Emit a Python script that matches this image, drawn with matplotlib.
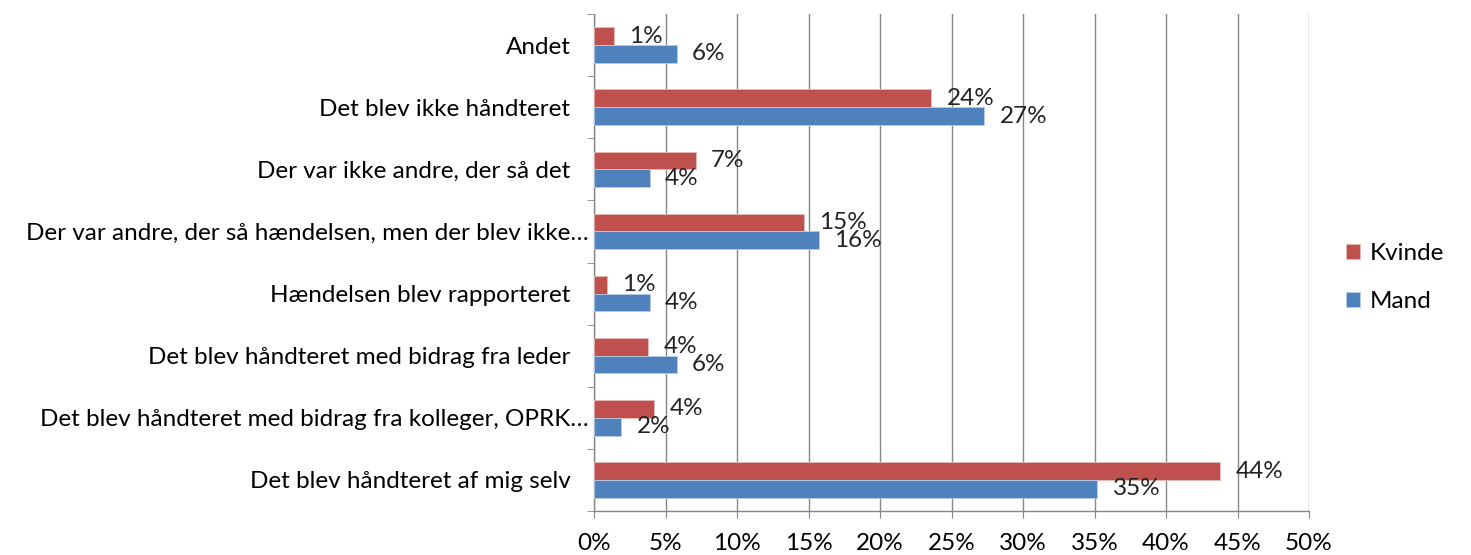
import numpy as np
import matplotlib
matplotlib.use("Agg")
import matplotlib.pyplot as plt
import matplotlib.transforms as mtransforms

plt.rcParams['font.family'] = ['Lato', 'DejaVu Sans']

# categories, bottom to top
categories = [
    "Det blev håndteret af mig selv",
    "Det blev håndteret med bidrag fra kolleger, OPRK…",
    "Det blev håndteret med bidrag fra leder",
    "Hændelsen blev rapporteret",
    "Der var andre, der så hændelsen, men der blev ikke…",
    "Der var ikke andre, der så det",
    "Det blev ikke håndteret",
    "Andet",
]
kvinde = [43.8, 4.2, 3.8, 0.9, 14.7, 7.1, 23.6, 1.4]
mand = [35.2, 1.9, 5.8, 3.9, 15.7, 3.9, 27.3, 5.8]
xticks = [0, 5, 10, 15, 20, 25, 30, 35, 40, 45, 50]

red = "#C0504D"
blue = "#4F81BD"
grid_c = "#868686"

fig = plt.figure(figsize=(14.71, 5.55), dpi=100)
ax = fig.add_axes([594/1471, 1 - 511/555, (1309 - 594)/1471, (511 - 14)/555])

y = np.arange(len(categories))
h = 0.285
bk = ax.barh(y + h/2, kvinde, height=h, color=red, edgecolor="#E6B9B8", linewidth=0.6, label="Kvinde", zorder=3)
bm = ax.barh(y - h/2, mand, height=h, color=blue, edgecolor="#B9CDE5", linewidth=0.6, label="Mand", zorder=3)

fs = 17.5
for bars, vals in ((bk, kvinde), (bm, mand)):
    for b, v in zip(bars, vals):
        ax.annotate(f"{v:.0f}%", (b.get_width(), b.get_y() + b.get_height()/2),
                    xytext=(11, 0), textcoords="offset points", ha="left", va="center",
                    fontsize=fs, color="#222222", zorder=4)

ax.set_xlim(0, 50)
ax.set_ylim(-0.5, len(categories) - 0.5)
ax.set_xticks(xticks)
ax.set_xticklabels([f"{t}%" for t in xticks], fontsize=fs)
ax.xaxis.grid(True, color=grid_c, linewidth=1.0, zorder=0)
ax.tick_params(axis='x', length=5, color=grid_c, pad=11)

ax.set_yticks(y)
ax.set_yticklabels(categories, fontsize=fs)
ax.set_yticks(np.arange(len(categories) + 1) - 0.5, minor=True)
ax.tick_params(axis='y', which='major', length=0, pad=17)
ax.tick_params(axis='y', which='minor', length=5, color=grid_c)

# truncated labels sit a little closer to the axis
for lbl in ax.get_yticklabels():
    if lbl.get_text().endswith("…"):
        lbl.set_transform(lbl.get_transform() + mtransforms.ScaledTranslation(18/100, 0, fig.dpi_scale_trans))

for s in ("top", "right"):
    ax.spines[s].set_visible(False)
for s in ("left", "bottom"):
    ax.spines[s].set_color(grid_c)
    ax.spines[s].set_linewidth(1.0)

ax.legend(handles=[bk, bm], loc="center left", bbox_to_anchor=(1309/1471 + 0.01, 0.5),
          bbox_transform=fig.transFigure, frameon=False, fontsize=fs,
          handlelength=0.6, handleheight=0.6, handletextpad=0.4, labelspacing=1.1)

fig.savefig("out.png", dpi=100)
